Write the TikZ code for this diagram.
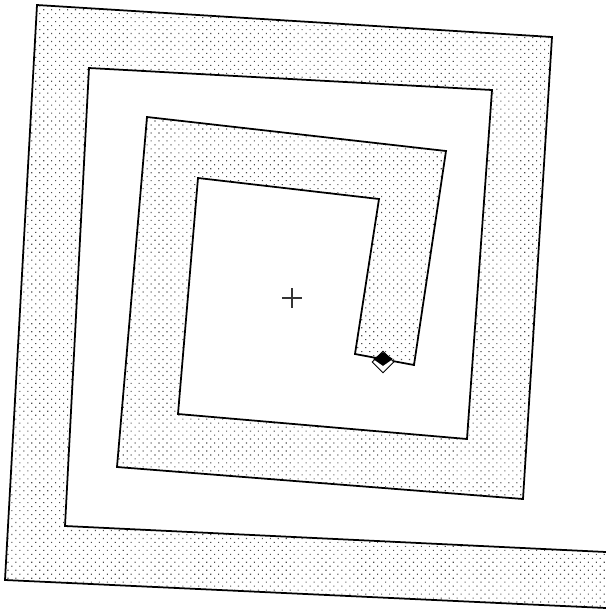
\documentclass[tikz,border=0pt]{standalone}
\usepackage{tikz}
\usetikzlibrary{shapes.geometric, patterns.meta, positioning}
\tikzset{
  % Spiral conductor strip
  coilstrip/.style={
    draw=black, line width=1pt, line join=miter,
    pattern={Dots[distance=3.2pt, angle=45, radius=0.45pt]},
    pattern color=black!70,
  },
  % Centre cross
  centremark/.style={line width=0.6pt, draw=black!80},
  % Feed point markers
  feedouter/.style={
    diamond, draw=black, fill=white, line width=0.5pt,
    minimum width=0.44cm, minimum height=0.44cm, inner sep=0pt,
  },
  feedinner/.style={
    diamond, fill=black, minimum width=0.40cm, minimum height=0.28cm,
    inner sep=0pt,
  },
}

\begin{document}
\begin{tikzpicture}[x=0.02cm, y=-0.02cm]
  \useasboundingbox (0,0) rectangle (606,610);
  % Outer edge of the strip
  \coordinate (oa) at (606,608);
  \coordinate (ob) at (5,580);
  \coordinate (oc) at (37,5);
  \coordinate (od) at (552,37);
  \coordinate (oe) at (523,499);
  \coordinate (of) at (117,467);
  \coordinate (og) at (147,117);
  \coordinate (oh) at (446,151);
  \coordinate (oi) at (414,365);
  % Inner edge of the strip
  \coordinate (ii) at (355,354);
  \coordinate (ih) at (379,199);
  \coordinate (ig) at (198,178);
  \coordinate (if) at (178,414);
  \coordinate (ie) at (467,439);
  \coordinate (id) at (492,90);
  \coordinate (ic) at (89,68);
  \coordinate (ib) at (65,526);
  \coordinate (ia) at (606,552);

  % Strip (open at the right end)
  \draw[coilstrip] (oa) -- (ob) -- (oc) -- (od) -- (oe) -- (of) -- (og)
    -- (oh) -- (oi) -- (ii) -- (ih) -- (ig) -- (if) -- (ie) -- (id)
    -- (ic) -- (ib) -- (ia);

  % Centre
  \coordinate (centre) at (292,298);
  \draw[centremark] ([xshift=-10*0.02cm]centre) -- ([xshift=10*0.02cm]centre);
  \draw[centremark] ([yshift=10*0.02cm]centre) -- ([yshift=-10*0.02cm]centre);

  % Feed point
  \node[feedouter] (feed) at (383,362) {};
  \node[feedinner] (feeddot) at (383,359) {};
\end{tikzpicture}
\end{document}
